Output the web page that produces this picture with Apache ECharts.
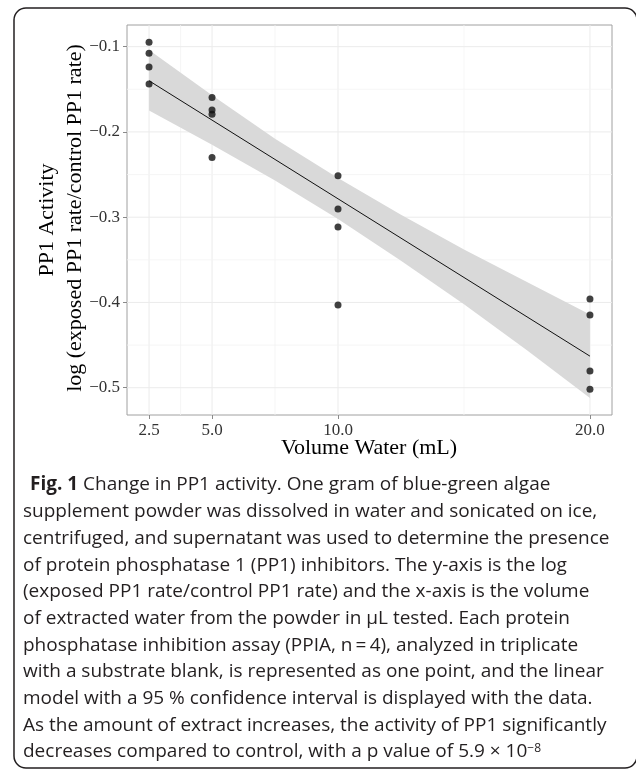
<!DOCTYPE html>
<html lang="en">
  <head>
    <meta charset="UTF-8" />
    <meta name="viewport" content="width=device-width, initial-scale=1.0" />
    <title>Change in PP1 activity</title>
    <script src="https://cdn.jsdelivr.net/npm/echarts@6/dist/echarts.min.js"></script>
    <style>
      html, body { margin: 0; padding: 0; background: #fff; }
    </style>
  </head>
  <body>
    <div id="chart" style="width: 636px; height: 771px"></div>
    <script>
      // one point per PPIA run (n = 4 per volume)
      const volumes = [2.5, 2.5, 2.5, 2.5, 5, 5, 5, 5, 10, 10, 10, 10, 20, 20, 20, 20];
      const activity = [
        -0.0948, -0.1077, -0.1238, -0.1437,
        -0.1597, -0.1742, -0.1793, -0.2301,
        -0.2513, -0.2904, -0.3115, -0.403,
        -0.396, -0.4147, -0.4804, -0.5019,
      ];

      // linear model and its 95 % band
      const fitX = [2.5, 20];
      const fitY = [-0.14, -0.463];
      const bandX = [2.5, 5, 7.5, 10, 12.5, 15, 17.5, 20];
      const bandUpper = [-0.104, -0.157, -0.208, -0.254, -0.297, -0.338, -0.376, -0.414];
      const bandLower = [-0.175, -0.215, -0.257, -0.302, -0.351, -0.402, -0.456, -0.512];

      const xTicks = [2.5, 5, 10, 20];
      const xMinor = [3.75, 7.5, 15];
      const yTicks = [-0.1, -0.2, -0.3, -0.4, -0.5];
      const yMinor = [-0.15, -0.25, -0.35, -0.45];

      const caption = [
        "{b|Fig. 1} Change in PP1 activity. One gram of blue-green algae",
        "supplement powder was dissolved in water and sonicated on ice,",
        "centrifuged, and supernatant was used to determine the presence",
        "of protein phosphatase 1 (PP1) inhibitors. The y-axis is the log",
        "(exposed PP1 rate/control PP1 rate) and the x-axis is the volume",
        "of extracted water from the powder in µL tested. Each protein",
        "phosphatase inhibition assay (PPIA, n\u2009=\u20094), analyzed in triplicate",
        "with a substrate blank, is represented as one point, and the linear",
        "model with a 95 % confidence interval is displayed with the data.",
        "As the amount of extract increases, the activity of PP1 significantly",
        "decreases compared to control, with a p value of 5.9 \u00d7 10{sup|\u22128}",
      ];

      const serif = '"Liberation Serif", "Times New Roman", serif';
      const sans = '"Open Sans", "Noto Sans", sans-serif';

      const chart = echarts.init(document.getElementById("chart"));

      const gridLine = (vertical) => (params, api) => {
        const cs = params.coordSys;
        const major = api.value(1) === 1;
        const style = { stroke: major ? "#ebebeb" : "#f4f4f4", lineWidth: major ? 1 : 0.8 };
        if (vertical) {
          const x = api.coord([api.value(0), -0.3])[0];
          return { type: "line", shape: { x1: x, y1: cs.y, x2: x, y2: cs.y + cs.height }, style };
        }
        const y = api.coord([10, api.value(0)])[1];
        return { type: "line", shape: { x1: cs.x, y1: y, x2: cs.x + cs.width, y2: y }, style };
      };

      const captionGraphics = caption.map((line, i) => ({
        type: "text",
        x: i === 0 ? 30 : 23,
        y: 485 + i * 26.7,
        style: {
          text: line,
          font: "19px " + sans,
          fill: "#231f20",
          verticalAlign: "middle",
          rich: {
            b: { font: "bold 19px " + sans, fill: "#231f20" },
            sup: { font: "12px " + sans, fill: "#231f20", verticalAlign: "top" },
          },
        },
      }));

      const option = {
        animation: false,
        backgroundColor: "#fff",
        grid: {
          left: 127,
          top: 25,
          width: 485,
          height: 390,
          show: true,
          borderColor: "#a0a0a0",
          borderWidth: 1,
        },
        xAxis: {
          type: "value",
          min: 1.625,
          max: 20.875,
          axisLine: { show: false },
          axisTick: { show: true, length: 4, customValues: xTicks, lineStyle: { color: "#8a8a8a" } },
          axisLabel: {
            customValues: xTicks,
            formatter: (v) => v.toFixed(1),
            margin: 7,
            color: "#333",
            fontFamily: serif,
            fontSize: 17,
          },
          splitLine: { show: false },
        },
        yAxis: {
          type: "value",
          min: -0.532,
          max: -0.0746,
          axisLine: { show: false },
          axisTick: { show: true, length: 4, customValues: yTicks, lineStyle: { color: "#8a8a8a" } },
          axisLabel: {
            customValues: yTicks,
            formatter: (v) => v.toFixed(1).replace("-", "\u2212"),
            margin: 7,
            color: "#333",
            fontFamily: serif,
            fontSize: 17,
          },
          splitLine: { show: false },
        },
        series: [
          {
            type: "custom",
            z: 0,
            silent: true,
            renderItem: gridLine(true),
            data: xTicks.map((v) => [v, 1]).concat(xMinor.map((v) => [v, 0])),
          },
          {
            type: "custom",
            z: 0,
            silent: true,
            renderItem: gridLine(false),
            data: yTicks.map((v) => [v, 1]).concat(yMinor.map((v) => [v, 0])),
          },
          {
            type: "custom",
            z: 1,
            silent: true,
            data: bandX.map((x, i) => [x, bandUpper[i], bandLower[i]]),
            renderItem: (params, api) => {
              if (params.dataIndex !== 0) return null;
              const pts = [];
              bandX.forEach((x, i) => pts.push(api.coord([x, bandUpper[i]])));
              for (let i = bandX.length - 1; i >= 0; i--) pts.push(api.coord([bandX[i], bandLower[i]]));
              return { type: "polygon", shape: { points: pts }, style: { fill: "#d9d9d9" } };
            },
          },
          {
            type: "line",
            z: 2,
            silent: true,
            symbol: "none",
            data: fitX.map((x, i) => [x, fitY[i]]),
            lineStyle: { color: "#111", width: 1 },
          },
          {
            type: "scatter",
            z: 3,
            symbol: "circle",
            symbolSize: 7,
            itemStyle: { color: "#111" },
            data: volumes.map((x, i) => [x, activity[i]]),
          },
        ],
        graphic: [
          {
            type: "rect",
            shape: { x: 14, y: 8, width: 623, height: 760, r: 12 },
            style: { fill: "none", stroke: "#231f20", lineWidth: 1.5 },
          },
          {
            type: "text",
            x: 47,
            y: 220,
            rotation: Math.PI / 2,
            style: { text: "PP1 Activity", font: "22px " + serif, fill: "#000", align: "center", verticalAlign: "middle" },
          },
          {
            type: "text",
            x: 75,
            y: 218,
            rotation: Math.PI / 2,
            style: {
              text: "log (exposed PP1 rate/control PP1 rate)",
              font: "22px " + serif,
              fill: "#000",
              align: "center",
              verticalAlign: "middle",
            },
          },
          {
            type: "text",
            x: 369,
            y: 448,
            style: { text: "Volume Water (mL)", font: "22px " + serif, fill: "#000", align: "center", verticalAlign: "middle" },
          },
        ].concat(captionGraphics),
      };

      chart.setOption(option);
    </script>
  </body>
</html>
